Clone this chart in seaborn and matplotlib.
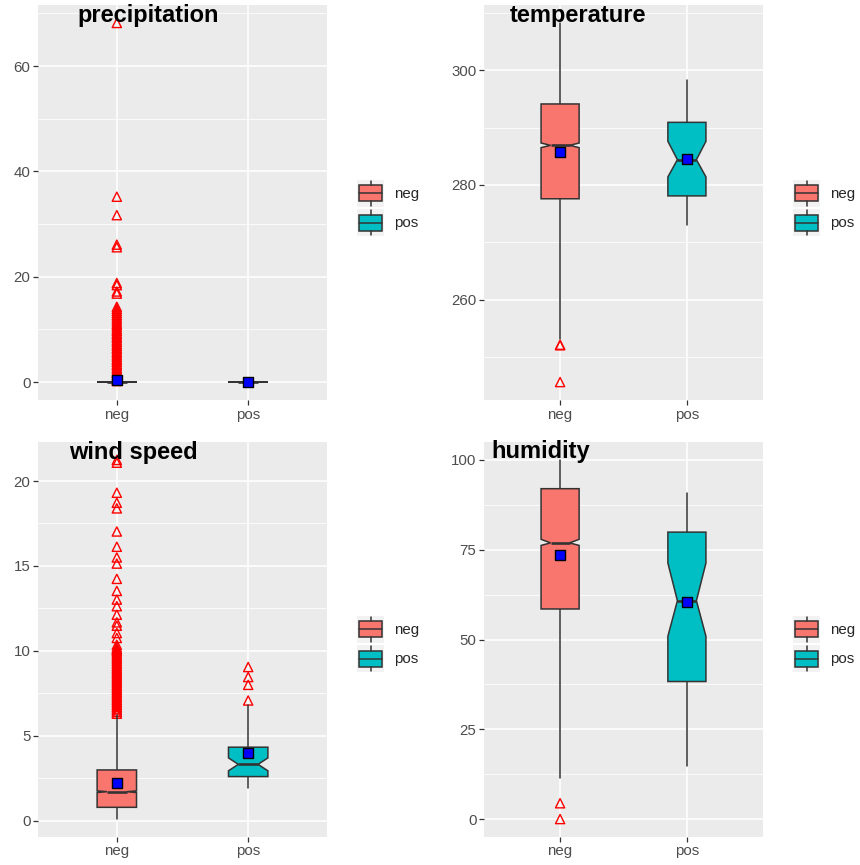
"""Notched boxplots of weather variables by class (neg / pos)."""

import matplotlib
matplotlib.use("Agg")
import matplotlib.pyplot as plt
import seaborn as sns
from matplotlib.legend_handler import HandlerBase
from matplotlib.lines import Line2D
from matplotlib.patches import Patch, Rectangle
from matplotlib.ticker import MultipleLocator

groups = ["neg", "pos"]
group_colors = ["#F8766D", "#00BFC4"]

# box stats: whisker low, q1, notch low, median, notch high, q3, whisker high
precip_neg_box = [0.0, 0.0, 0.0, 0.0, 0.0, 0.0, 0.0]
precip_pos_box = [0.0, 0.0, 0.0, 0.0, 0.0, 0.0, 0.0]
precip_means = [0.3, 0.05]
precip_neg_out = [68.2, 35.2, 31.7, 26.1, 25.6, 18.8, 18.4, 17.2, 16.8, 14.3,
                  13.9, 13.5, 13.1, 12.7, 12.3, 11.9, 11.5, 11.1, 10.8, 10.4,
                  10.0, 9.7, 9.3, 9.0, 8.6, 8.3, 7.9, 7.6, 7.2, 6.9, 6.5, 6.2,
                  5.8, 5.5, 5.1, 4.8, 4.4, 4.1, 3.8, 3.4, 3.1, 2.7, 2.4, 2.0,
                  1.7, 1.3, 1.0, 0.7, 0.4, 0.2]
precip_pos_out = []

temp_neg_box = [253.2, 277.6, 286.5, 286.9, 287.3, 294.1, 308.2]
temp_pos_box = [273.1, 278.1, 281.4, 284.4, 287.6, 290.9, 298.3]
temp_means = [285.7, 284.5]
temp_neg_out = [252.1, 252.2, 245.7]
temp_pos_out = []

wind_neg_box = [0.1, 0.79, 1.66, 1.71, 1.76, 2.99, 6.2]
wind_pos_box = [1.91, 2.60, 2.94, 3.32, 3.70, 4.33, 6.82]
wind_means = [2.2, 4.0]
wind_neg_out = [21.24, 21.08, 19.31, 18.72, 18.39, 17.03, 16.13, 15.5, 15.14,
                14.24, 13.53, 13.02, 12.63, 12.13, 11.68, 11.48, 11.05, 10.76,
                10.36, 10.07, 10.2, 10.1, 10.0, 9.9, 9.8, 9.7, 9.6, 9.5, 9.4,
                9.3, 9.2, 9.1, 9.0, 8.9, 8.8, 8.7, 8.6, 8.5, 8.4, 8.3, 8.2,
                8.1, 8.0, 7.9, 7.8, 7.7, 7.6, 7.5, 7.4, 7.3, 7.2, 7.1, 7.0,
                6.9, 6.8, 6.7, 6.6, 6.5, 6.4, 6.3]
wind_pos_out = [9.05, 8.46, 8.0, 7.08]

humid_neg_box = [11.3, 58.5, 76.2, 76.9, 77.9, 92.0, 100.0]
humid_pos_box = [14.8, 38.3, 50.9, 60.8, 71.3, 79.9, 90.7]
humid_means = [73.4, 60.4]
humid_neg_out = [4.4, 0.0]
humid_pos_out = []

W, H = 860, 865
EDGE = "#333333"


class BoxKeyHandler(HandlerBase):
    """Draws a tiny boxplot glyph as a legend key, ggplot style."""

    def create_artists(self, legend, orig_handle, xdescent, ydescent,
                       width, height, fontsize, trans):
        x0, y0 = -xdescent, -ydescent
        cx = x0 + width / 2
        bg = Rectangle((x0, y0), width, height, facecolor="#F2F2F2",
                       edgecolor="none", transform=trans)
        bx = Rectangle((x0 + 0.085 * width, y0 + 0.2 * height),
                       0.83 * width, 0.6 * height,
                       facecolor=orig_handle.get_facecolor(),
                       edgecolor=EDGE, lw=1.1, transform=trans)
        med = Line2D([x0 + 0.085 * width, x0 + 0.915 * width],
                     [y0 + 0.5 * height] * 2, color=EDGE, lw=1.1, transform=trans)
        w_top = Line2D([cx, cx], [y0 + 0.8 * height, y0 + 0.96 * height],
                       color=EDGE, lw=1.1, transform=trans)
        w_bot = Line2D([cx, cx], [y0 + 0.04 * height, y0 + 0.2 * height],
                       color=EDGE, lw=1.1, transform=trans)
        return [bg, bx, med, w_top, w_bot]


def draw_panel(fig, rect, title, title_pos, neg_box, pos_box, means,
               neg_out, pos_out, step, legend_pos):
    left, top, right, bottom = rect
    ax = fig.add_axes([left / W, 1 - bottom / H, (right - left) / W, (bottom - top) / H])

    stats = []
    for box in (neg_box, pos_box):
        lo, q1, cilo, med, cihi, q3, hi = box
        stats.append(dict(whislo=lo, q1=q1, cilo=cilo, med=med, cihi=cihi,
                          q3=q3, whishi=hi, fliers=[]))

    # outliers sit under the boxes
    out_x = [0] * len(neg_out) + [1] * len(pos_out)
    sns.scatterplot(x=out_x, y=neg_out + pos_out, marker="^", s=44,
                    facecolors="none", edgecolor="red", linewidth=1.0,
                    zorder=2, ax=ax)

    parts = ax.bxp(stats, positions=[0, 1], widths=0.3, shownotches=True,
                   patch_artist=True, showcaps=False, showfliers=False,
                   boxprops=dict(edgecolor=EDGE, linewidth=1.1),
                   medianprops=dict(color=EDGE, linewidth=1.9),
                   whiskerprops=dict(color=EDGE, linewidth=1.1))
    for patch, col in zip(parts["boxes"], group_colors):
        patch.set_facecolor(col)
        patch.set_zorder(3)
    for line in parts["medians"]:
        line.set_zorder(4)

    sns.scatterplot(x=[0, 1], y=means, marker="s", s=50, color="blue",
                    edgecolor="black", linewidth=1.0, zorder=6, ax=ax)

    # ggplot-like 5% expansion of the data range
    all_vals = neg_box + pos_box + neg_out + pos_out
    lo, hi = min(all_vals), max(all_vals)
    pad = (hi - lo) * 0.05
    ax.set_ylim(lo - pad, hi + pad)
    ax.set_xlim(-0.6, 1.6)
    ax.set_xticks([0, 1])
    ax.set_xticklabels(groups)
    ax.yaxis.set_major_locator(MultipleLocator(step))
    ax.yaxis.set_minor_locator(MultipleLocator(step / 2))

    ax.set_facecolor("#EBEBEB")
    ax.set_axisbelow(True)
    ax.grid(False)
    ax.grid(which="major", axis="both", color="white", linewidth=1.1)
    ax.grid(which="minor", axis="y", color="white", linewidth=0.55)
    for sp in ax.spines.values():
        sp.set_visible(False)
    ax.tick_params(which="major", bottom=True, left=True, length=3.4, width=0.9,
                   color=EDGE, labelcolor="#4D4D4D", labelsize=10.8, pad=2)
    ax.tick_params(which="minor", length=0)
    ax.set_xlabel("")
    ax.set_ylabel("")

    fig.text(title_pos[0] / W, 1 - title_pos[1] / H, title, fontsize=17,
             fontweight="bold", color="black", ha="left", va="baseline", zorder=10)

    handles = [Patch(facecolor=c, label=g) for g, c in zip(groups, group_colors)]
    fig.legend(handles=handles, loc="center left",
               bbox_to_anchor=(legend_pos[0] / W, 1 - legend_pos[1] / H),
               bbox_transform=fig.transFigure, frameon=False, borderpad=0,
               borderaxespad=0, handlelength=1.8, handleheight=2.39,
               handletextpad=0.7, labelspacing=0.15, fontsize=10.8,
               handler_map={Patch: BoxKeyHandler()})
    return ax


sns.set_theme(style="darkgrid")
plt.rcParams["font.family"] = ["Liberation Sans", "DejaVu Sans"]

fig = plt.figure(figsize=(W / 100, H / 100), dpi=100)

draw_panel(fig, (38, 5, 327, 400), "precipitation", (77, 22),
           precip_neg_box, precip_pos_box, precip_means,
           precip_neg_out, precip_pos_out, 20, (357, 208))
draw_panel(fig, (484, 5, 763, 400), "temperature", (510, 22),
           temp_neg_box, temp_pos_box, temp_means,
           temp_neg_out, temp_pos_out, 20, (793, 208))
draw_panel(fig, (38, 442, 327, 837), "wind speed", (69, 459),
           wind_neg_box, wind_pos_box, wind_means,
           wind_neg_out, wind_pos_out, 5, (357, 644))
draw_panel(fig, (484, 442, 763, 837), "humidity", (491, 458),
           humid_neg_box, humid_pos_box, humid_means,
           humid_neg_out, humid_pos_out, 25, (793, 644))

fig.savefig("out.png", dpi=100, facecolor="white")
